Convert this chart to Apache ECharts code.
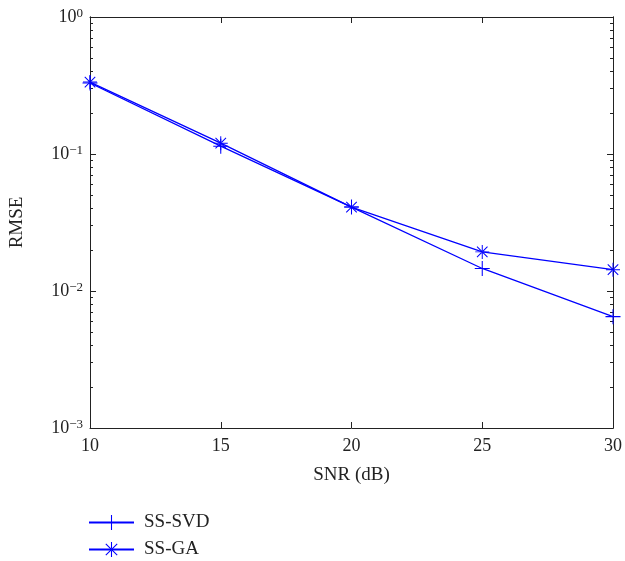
<!DOCTYPE html>
<html>
<head>
<meta charset="utf-8">
<script src="https://cdn.jsdelivr.net/npm/echarts@6/dist/echarts.min.js"></script>
<style>html,body{margin:0;padding:0;background:#fff}#c{width:625px;height:561px}</style>
</head>
<body>
<div id="c"></div>
<script>
var snr = [10, 15, 20, 25, 30];
var svd = [0.33, 0.114, 0.041, 0.0146, 0.0065];
var ga = [0.335, 0.12, 0.041, 0.0193, 0.0143];
var xTicks = [10, 15, 20, 25, 30];
var yMajor = [0.001, 0.01, 0.1, 1];
var yMinor = [0.002,0.003,0.004,0.005,0.006,0.007,0.008,0.009,0.02,0.03,0.04,0.05,0.06,0.07,0.08,0.09,0.2,0.3,0.4,0.5,0.6,0.7,0.8,0.9];

var FONT = 'Liberation Serif';
var TXT = '#222';
var AX = '#222';
var plusPath = 'path://M-0.07,-1 L0.07,-1 L0.07,1 L-0.07,1 Z M-1,-0.07 L1,-0.07 L1,0.07 L-1,0.07 Z';
var d = 0.05;
var starPath = 'path://M-0.07,-1 L0.07,-1 L0.07,1 L-0.07,1 Z M-1,-0.07 L1,-0.07 L1,0.07 L-1,0.07 Z ' +
  'M' + (-0.75 + d) + ',' + (-0.75 - d) + ' L' + (0.75 + d) + ',' + (0.75 - d) + ' L' + (0.75 - d) + ',' + (0.75 + d) + ' L' + (-0.75 - d) + ',' + (-0.75 + d) + ' Z ' +
  'M' + (0.75 - d) + ',' + (-0.75 - d) + ' L' + (-0.75 - d) + ',' + (0.75 - d) + ' L' + (-0.75 + d) + ',' + (0.75 + d) + ' L' + (0.75 + d) + ',' + (-0.75 + d) + ' Z';

function expLabel(v) {
  var e = Math.round(Math.log10(v));
  var s = e < 0 ? '\u2212' + (-e) : '' + e;
  return '{b|10}{s|' + s + '}';
}

function yAxisDef(pos, major, showLabel) {
  return {
    type: 'log', logBase: 10, min: 0.001, max: 1, position: pos,
    axisLine: { show: true, lineStyle: { color: AX, width: 1 } },
    axisTick: { show: true, inside: true, length: major ? 6 : 3, lineStyle: { color: AX, width: 1 },
      customValues: major ? yMajor : yMinor },
    axisLabel: { show: showLabel, margin: 7, customValues: yMajor, formatter: expLabel,
      rich: { b: { fontFamily: FONT, fontSize: 18, color: TXT, lineHeight: 20 },
              s: { fontFamily: FONT, fontSize: 13, color: TXT, verticalAlign: 'top', lineHeight: 12 } } },
    splitLine: { show: false },
    name: showLabel ? 'RMSE' : '', nameLocation: 'middle', nameRotate: 90, nameGap: 63,
    nameTextStyle: { fontFamily: FONT, fontSize: 19, color: TXT }
  };
}

function legendDef(name, top) {
  return {
    orient: 'vertical', left: 88, top: top, padding: 0, itemWidth: 45, itemHeight: 19, itemGap: 8,
    textStyle: { fontFamily: FONT, fontSize: 19, color: TXT, padding: [0, 0, 0, 5] },
    data: [name]
  };
}

var chart = echarts.init(document.getElementById('c'));
chart.setOption({
  animation: false,
  backgroundColor: '#fff',
  grid: { left: 89, right: 12, top: 17, bottom: 133 },
  xAxis: [{
    type: 'value', min: 10, max: 30, interval: 5, position: 'bottom',
    axisLine: { lineStyle: { color: AX, width: 1 } },
    axisTick: { inside: true, length: 6, lineStyle: { color: AX } },
    axisLabel: { margin: 9, fontFamily: FONT, fontSize: 18, color: TXT },
    splitLine: { show: false },
    name: 'SNR (dB)', nameLocation: 'middle', nameGap: 38,
    nameTextStyle: { fontFamily: FONT, fontSize: 19, color: TXT }
  }, {
    type: 'value', min: 10, max: 30, interval: 5, position: 'top',
    axisLine: { lineStyle: { color: AX, width: 1 } },
    axisTick: { inside: true, length: 6, lineStyle: { color: AX } },
    axisLabel: { show: false }, splitLine: { show: false }
  }],
  yAxis: [yAxisDef('left', true, true), yAxisDef('left', false, false), yAxisDef('right', true, false), yAxisDef('right', false, false)],
  legend: [legendDef('SS-SVD', 513), legendDef('SS-GA', 540)],
  series: [{
    name: 'SS-SVD', type: 'line', data: snr.map(function (x, i) { return [x, svd[i]]; }),
    symbol: plusPath, symbolSize: 15, showAllSymbol: true,
    itemStyle: { color: '#0000ff' }, lineStyle: { color: '#0000ff', width: 1.3 }
  }, {
    name: 'SS-GA', type: 'line', data: snr.map(function (x, i) { return [x, ga[i]]; }),
    symbol: starPath, symbolSize: 14, showAllSymbol: true,
    itemStyle: { color: '#0000ff' }, lineStyle: { color: '#0000ff', width: 1.3 }
  }]
});
</script>
</body>
</html>
